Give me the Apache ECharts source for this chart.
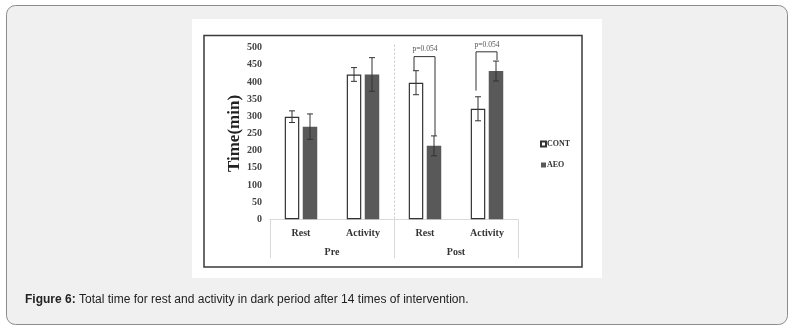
<!DOCTYPE html>
<html><head><meta charset="utf-8">
<script src="https://cdn.jsdelivr.net/npm/echarts@6/dist/echarts.min.js"></script>
<style>html,body{margin:0;padding:0;background:#fff}#c{width:793px;height:332px}</style>
</head><body><div id="c"></div>
<script>
const categories = ['Rest', 'Activity', 'Rest', 'Activity'];
const groups = ['Pre', 'Post'];
const seriesNames = ['CONT', 'AEO'];
const contMeans = [299, 422, 398, 322];
const aeoMeans = [270, 422, 214, 432];
const contErr = [17, 20, 35, 35];
const aeoErr = [37, 49, 29, 29];
const yTicks = [0, 50, 100, 150, 200, 250, 300, 350, 400, 450, 500];
// significance brackets: category index, left end, right end, top, label
const bracketCats = [2, 3];
const bracketLeft = [433, 375];
const bracketRight = [243, 464];
const bracketTop = [474, 488];
const bracketText = ['p=0.054', 'p=0.054'];
const bracketTextY = [496, 508];

const serif = '"Liberation Serif", "DejaVu Serif", serif';
const chart = echarts.init(document.getElementById('c'));
const BW = 14.5, OFF = 9;

function errItem(offset, means, errs) {
  return function (params, api) {
    const i = api.value(0);
    const top = api.coord([i, means[i] + errs[i]]);
    const bot = api.coord([i, means[i] - errs[i]]);
    const x = top[0] + offset;
    const st = { stroke: '#333', lineWidth: 1 };
    return { type: 'group', children: [
      { type: 'line', shape: { x1: x, y1: top[1], x2: x, y2: bot[1] }, style: st },
      { type: 'line', shape: { x1: x - 3, y1: top[1], x2: x + 3, y2: top[1] }, style: st },
      { type: 'line', shape: { x1: x - 3, y1: bot[1], x2: x + 3, y2: bot[1] }, style: st }
    ]};
  };
}

chart.setOption({
  animation: false,
  graphic: [
    { type: 'rect', z: -100, shape: { x: 6.5, y: 5.5, width: 781, height: 319, r: 9 },
      style: { fill: '#f0f0f0', stroke: '#8c8c8c', lineWidth: 1 } },
    { type: 'rect', z: -99, shape: { x: 192, y: 19, width: 410, height: 259 },
      style: { fill: '#ffffff' } },
    { type: 'rect', z: -98, shape: { x: 204, y: 35.5, width: 378, height: 231.5 },
      style: { fill: '#ffffff', stroke: '#3a3a3a', lineWidth: 1.5 } },
    { type: 'text', left: 25, top: 294,
      style: { text: '{b|Figure 6:} Total time for rest and activity in dark period after 14 times of intervention.',
        font: '12px "Liberation Sans", Arial, sans-serif', fill: '#222',
        rich: { b: { fontWeight: 'bold', fontFamily: '"Liberation Sans", Arial, sans-serif', fontSize: 12, fill: '#222' } } } }
  ],
  legend: {
    orient: 'vertical', left: 535, top: 135, itemWidth: 5, itemHeight: 5, itemGap: 13,
    icon: 'rect', data: seriesNames,
    textStyle: { fontFamily: serif, fontWeight: 'bold', fontSize: 8, color: '#333', padding: [0, 0, 0, -4] }
  },
  grid: { left: 270, right: 275, top: 47.7, bottom: 112.7 },
  xAxis: [
    { type: 'category', data: categories, position: 'bottom',
      axisLine: { lineStyle: { color: '#d9d9d9' } }, axisTick: { show: false },
      axisLabel: { margin: 9, fontFamily: serif, fontWeight: 'bold', fontSize: 10, color: '#333' } },
    { type: 'category', data: groups, position: 'bottom',
      axisLine: { show: false },
      axisTick: { show: true, length: 39, lineStyle: { color: '#d9d9d9' } },
      axisLabel: { margin: 28, fontFamily: serif, fontWeight: 'bold', fontSize: 10, color: '#333' },
      splitLine: { show: false } }
  ],
  yAxis: {
    type: 'value', min: yTicks[0], max: yTicks[yTicks.length - 1], interval: 50,
    name: 'Time(min)', nameLocation: 'middle', nameGap: 26, nameRotate: 90,
    nameTextStyle: { fontFamily: serif, fontWeight: 'bold', fontSize: 17, color: '#222' },
    axisLine: { show: false }, axisTick: { show: false }, splitLine: { show: false },
    axisLabel: { margin: 8, fontFamily: serif, fontWeight: 'bold', fontSize: 10, color: '#444' }
  },
  series: [
    { name: 'CONT', type: 'bar', data: contMeans, barWidth: BW, barGap: '24%',
      itemStyle: { color: '#ffffff', borderColor: '#333', borderWidth: 1.2 } },
    { name: 'AEO', type: 'bar', data: aeoMeans, barWidth: BW, barGap: '24%',
      itemStyle: { color: '#595959' } },
    { type: 'custom', data: categories.map((c, i) => [i]), renderItem: errItem(-OFF, contMeans, contErr), z: 5 },
    { type: 'custom', data: categories.map((c, i) => [i]), renderItem: errItem(OFF, aeoMeans, aeoErr), z: 5 },
    // dashed separator between Pre and Post groups
    { type: 'custom', clip: false, z: 1, data: [[1]],
      renderItem: function (params, api) {
        const a = api.coord([1, 0]), b = api.coord([2, 0]);
        const x = Math.round((a[0] + b[0]) / 2) + 0.5;
        const top = api.coord([1, yTicks[yTicks.length - 1]])[1] - 3;
        return { type: 'line', shape: { x1: x, y1: top, x2: x, y2: a[1] },
          style: { stroke: '#c8c8c8', lineWidth: 1, lineDash: [2, 2] } };
      } },
    { type: 'custom', clip: false, z: 6, data: bracketCats.map((c, k) => [c, k]),
      renderItem: function (params, api) {
        const i = api.value(0), k = api.value(1);
        const c = api.coord([i, 0])[0];
        const xl = c - OFF - 2, xr = c + OFF + 1;
        const yt = api.coord([i, bracketTop[k]])[1];
        const yl = api.coord([i, bracketLeft[k]])[1];
        const yr = api.coord([i, bracketRight[k]])[1];
        const ty = api.coord([i, bracketTextY[k]])[1];
        return { type: 'group', children: [
          { type: 'polyline', shape: { points: [[xl, yl], [xl, yt], [xr, yt], [xr, yr]] },
            style: { stroke: '#333', lineWidth: 1, fill: null } },
          { type: 'text', style: { text: bracketText[k], x: c, y: ty, align: 'center', verticalAlign: 'middle',
              font: '7.5px ' + serif, fill: '#555' } }
        ]};
      } }
  ]
});
</script></body></html>
